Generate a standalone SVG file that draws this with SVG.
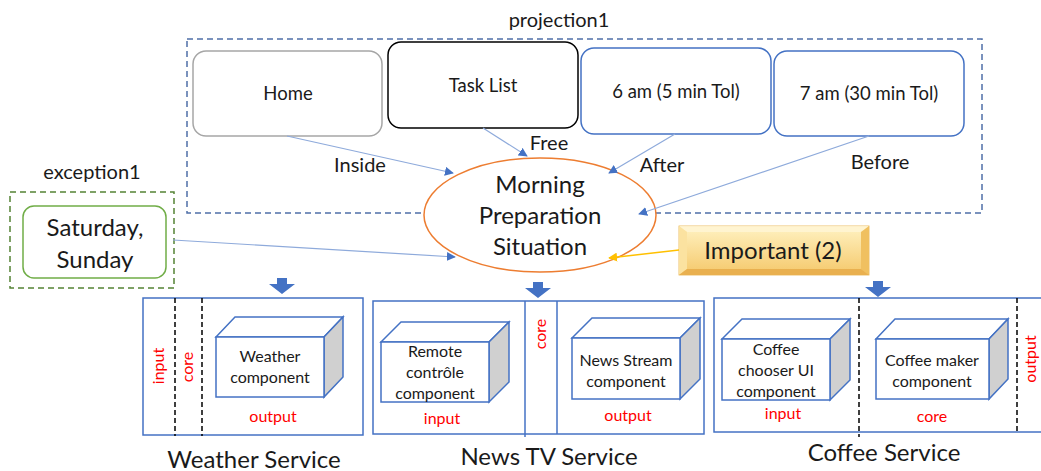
<svg xmlns="http://www.w3.org/2000/svg" width="1041" height="471" viewBox="0 0 1041 471">
<defs>
<style>
text{font-family:Lato,"Liberation Sans",sans-serif;fill:#1a1a1a;text-anchor:middle}
.lbl{font-size:20px}
.bx{font-size:18.5px}
.sm{font-size:16px}
.red{font-size:16px;fill:#ff0000}
.big{font-size:24px}
.conn{stroke:#8eaadb;stroke-width:1.2;fill:none;marker-end:url(#ah)}
.svc{fill:#fff;stroke:#4472c4;stroke-width:1.5}
.front{fill:#fff;stroke:#4472c4;stroke-width:1.5}
.side{fill:#d0d0d0;stroke:#4472c4;stroke-width:1.5}
.top{fill:#fff;stroke:#4472c4;stroke-width:1.5}
.dash{stroke:#000;stroke-width:1.5;stroke-dasharray:5,3}
.barrow{fill:#4472c4}
</style>
<marker id="ah" viewBox="0 0 10 10" refX="9" refY="5" markerWidth="9" markerHeight="9" markerUnits="userSpaceOnUse" orient="auto"><path d="M0,0L10,5L0,10z" fill="#4472c4"/></marker>
<marker id="ahy" viewBox="0 0 10 10" refX="9" refY="5" markerWidth="9" markerHeight="9" markerUnits="userSpaceOnUse" orient="auto"><path d="M0,0L10,5L0,10z" fill="#ffc000"/></marker>
<marker id="ahk" viewBox="0 0 10 10" refX="9" refY="5" markerWidth="9" markerHeight="9" markerUnits="userSpaceOnUse" orient="auto"><path d="M0,0L10,5L0,10z" fill="#000"/></marker>
<linearGradient id="gold" x1="0" y1="0" x2="0" y2="1"><stop offset="0" stop-color="#fff2c2"/><stop offset="1" stop-color="#f5c86a"/></linearGradient>
</defs>

<g id="projection1">
<rect x="187" y="39" width="795" height="174" fill="none" stroke="#4f6fa8" stroke-width="1.5" stroke-dasharray="6,4"/>
<text class="lbl" x="559" y="27">projection1</text>
</g>

<g id="exception1">
<rect x="10" y="192" width="164" height="96" fill="none" stroke="#548235" stroke-width="1.5" stroke-dasharray="6,4"/>
<text class="lbl" x="92" y="179">exception1</text>
</g>

<g id="home">
<rect x="193" y="51" width="189" height="85" rx="13" fill="#fff" stroke="#a6a6a6" stroke-width="1.5"/>
<text class="bx" x="288" y="100">Home</text>
</g>
<g id="tasklist">
<rect x="388" y="42" width="190" height="86" rx="13" fill="#fff" stroke="#000" stroke-width="1.5"/>
<text class="bx" x="483" y="92">Task List</text>
</g>
<g id="six">
<rect x="581" y="48" width="190" height="86" rx="13" fill="#fff" stroke="#4472c4" stroke-width="1.5"/>
<text class="bx" x="676" y="98">6 am (5 min Tol)</text>
</g>
<g id="seven">
<rect x="774" y="51" width="190" height="85" rx="13" fill="#fff" stroke="#4472c4" stroke-width="1.5"/>
<text class="bx" x="869" y="100">7 am (30 min Tol)</text>
</g>

<g id="situation">
<ellipse cx="540" cy="215" rx="116" ry="57" fill="#fff" stroke="#ed7d31" stroke-width="1.5"/>
<text class="big" x="540" y="193">Morning</text>
<text class="big" x="540" y="224">Preparation</text>
<text class="big" x="540" y="255">Situation</text>
</g>

<g id="weekend">
<rect x="23" y="206" width="143" height="72" rx="11" fill="#fff" stroke="#70ad47" stroke-width="1.5"/>
<text class="big" x="95" y="236">Saturday,</text>
<text class="big" x="95" y="268">Sunday</text>
</g>

<g id="important">
<rect x="679" y="226" width="190" height="49" fill="url(#gold)" stroke="#e8b24a" stroke-width="0.8"/>
<polygon points="679,226 869,226 861,232 687,232" fill="#fff5d6" opacity="0.8"/>
<polygon points="679,226 687,232 687,269 679,275" fill="#fbe2a0"/>
<polygon points="869,226 861,232 861,269 869,275" fill="#f0c060"/>
<polygon points="679,275 687,269 861,269 869,275" fill="#e9b04f"/>
<text class="big" x="773" y="259">Important (2)</text>
</g>

<g id="connectors">
<line class="conn" x1="287" y1="136" x2="453" y2="173"/>
<line class="conn" x1="483" y1="128" x2="527" y2="156"/>
<line class="conn" x1="675" y1="134" x2="609" y2="173"/>
<line class="conn" x1="869" y1="136" x2="639" y2="214"/>
<line class="conn" x1="173" y1="240" x2="455" y2="257"/>
<line x1="679" y1="250" x2="609" y2="258" stroke="#ffc000" stroke-width="1.5" marker-end="url(#ahy)"/>
<text class="lbl" x="360" y="172">Inside</text>
<text class="lbl" x="549" y="150">Free</text>
<text class="lbl" x="662" y="172">After</text>
<text class="lbl" x="880" y="169">Before</text>
<path class="barrow" d="M277,278h10v6h8l-13,10l-13,-10h8z"/>
<path class="barrow" d="M533,282h10v6h8l-13,10l-13,-10h8z"/>
<path class="barrow" d="M873,281h10v6h8l-13,10l-13,-10h8z"/>
<line x1="490" y1="372" x2="572" y2="370" stroke="#4472c4" stroke-width="1.3" marker-end="url(#ah)"/>
<line x1="830" y1="370" x2="876" y2="370" stroke="#000" stroke-width="1.5" marker-end="url(#ahk)"/>
</g>

<g id="weather-service">
<rect class="svc" x="143" y="298" width="220" height="137"/>
<line class="dash" x1="175" y1="298" x2="175" y2="436"/>
<line class="dash" x1="202" y1="298" x2="202" y2="436"/>
<text class="red" transform="translate(164,366) rotate(-90)">input</text>
<text class="red" transform="translate(193,367) rotate(-90)">core</text>
<text class="red" x="273" y="422">output</text>
<text class="big" x="254" y="468">Weather Service</text>
</g>
<g id="weather-component">
<polygon class="top" points="216,337 235,317 343,317 324,337"/>
<polygon class="side" points="324,337 343,317 343,377 324,397"/>
<rect class="front" x="216" y="337" width="108" height="60"/>
<text class="sm" x="270" y="362">Weather</text>
<text class="sm" x="270" y="383">component</text>
</g>

<g id="newstv-service">
<rect class="svc" x="373" y="301" width="331" height="133"/>
<line x1="525" y1="301" x2="525" y2="437" stroke="#4472c4" stroke-width="1.5"/>
<line x1="557" y1="301" x2="557" y2="434" stroke="#4472c4" stroke-width="1.5"/>
<text class="red" transform="translate(546,334) rotate(-90)">core</text>
<text class="red" x="442" y="424">input</text>
<text class="red" x="628" y="421">output</text>
<text class="big" x="549" y="465">News TV Service</text>
</g>
<g id="remote-component">
<polygon class="top" points="381,342 401,322 509,322 489,342"/>
<polygon class="side" points="489,342 509,322 509,382 489,402"/>
<rect class="front" x="381" y="342" width="108" height="60"/>
<text class="sm" x="435" y="357">Remote</text>
<text class="sm" x="435" y="378">contrôle</text>
<text class="sm" x="435" y="399">component</text>
</g>
<g id="newsstream-component">
<polygon class="top" points="572,338 592,318 700,318 680,338"/>
<polygon class="side" points="680,338 700,318 700,379 680,399"/>
<rect class="front" x="572" y="338" width="108" height="61"/>
<text class="sm" x="626" y="366">News Stream</text>
<text class="sm" x="626" y="387">component</text>
</g>

<g id="coffee-service">
<rect class="svc" x="714" y="298" width="340" height="134"/>
<line class="dash" x1="859" y1="298" x2="859" y2="437"/>
<line class="dash" x1="1017" y1="298" x2="1017" y2="433"/>
<text class="red" transform="translate(1036,359) rotate(-90)">output</text>
<text class="red" x="783" y="419">input</text>
<text class="red" x="932" y="422">core</text>
<text class="big" x="884" y="461">Coffee Service</text>
</g>
<g id="chooser-component">
<polygon class="top" points="722,339 742,319 850,319 830,339"/>
<polygon class="side" points="830,339 850,319 850,380 830,400"/>
<rect class="front" x="722" y="339" width="108" height="61"/>
<text class="sm" x="776" y="355">Coffee</text>
<text class="sm" x="776" y="376">chooser UI</text>
<text class="sm" x="776" y="397">component</text>
</g>
<g id="maker-component">
<polygon class="top" points="876,339 895,319 1008,319 989,339"/>
<polygon class="side" points="989,339 1008,319 1008,379 989,399"/>
<rect class="front" x="876" y="339" width="113" height="60"/>
<text class="sm" x="932" y="366">Coffee maker</text>
<text class="sm" x="932" y="387">component</text>
</g>
</svg>
